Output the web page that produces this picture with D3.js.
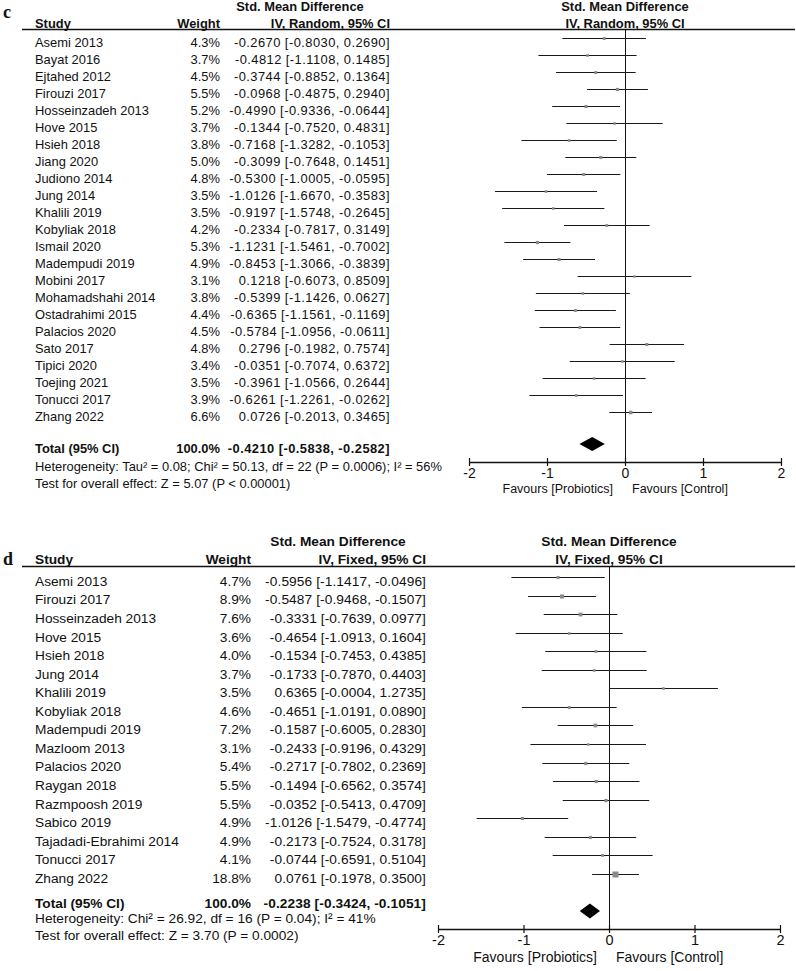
<!DOCTYPE html>
<html>
<head>
<meta charset="utf-8">
<script src="https://cdn.jsdelivr.net/npm/d3@7"></script>
<style>
  body { margin: 0; background: #fff; }
  text { font-family: "Liberation Sans", Arial, sans-serif; fill: #111; }
</style>
</head>
<body>
<svg></svg>
<script>
// panel c: random effects
let cStudies = ['Asemi 2013', 'Bayat 2016', 'Ejtahed 2012', 'Firouzi 2017', 'Hosseinzadeh 2013',
  'Hove 2015', 'Hsieh 2018', 'Jiang 2020', 'Judiono 2014', 'Jung 2014', 'Khalili 2019',
  'Kobyliak 2018', 'Ismail 2020', 'Madempudi 2019', 'Mobini 2017', 'Mohamadshahi 2014',
  'Ostadrahimi 2015', 'Palacios 2020', 'Sato 2017', 'Tipici 2020', 'Toejing 2021',
  'Tonucci 2017', 'Zhang 2022'];
let cWeights = [4.3, 3.7, 4.5, 5.5, 5.2, 3.7, 3.8, 5.0, 4.8, 3.5, 3.5, 4.2, 5.3, 4.9, 3.1, 3.8, 4.4, 4.5, 4.8, 3.4, 3.5, 3.9, 6.6];
let cSmd = [-0.2670, -0.4812, -0.3744, -0.0968, -0.4990, -0.1344, -0.7168, -0.3099, -0.5300, -1.0126,
  -0.9197, -0.2334, -1.1231, -0.8453, 0.1218, -0.5399, -0.6365, -0.5784, 0.2796, -0.0351, -0.3961, -0.6261, 0.0726];
let cLower = [-0.8030, -1.1108, -0.8852, -0.4875, -0.9336, -0.7520, -1.3282, -0.7648, -1.0005, -1.6670,
  -1.5748, -0.7817, -1.5461, -1.3066, -0.6073, -1.1426, -1.1561, -1.0956, -0.1982, -0.7074, -1.0566, -1.2261, -0.2013];
let cUpper = [0.2690, 0.1485, 0.1364, 0.2940, -0.0644, 0.4831, -0.1053, 0.1451, -0.0595, -0.3583,
  -0.2645, 0.3149, -0.7002, -0.3839, 0.8509, 0.0627, -0.1169, -0.0611, 0.7574, 0.6372, 0.2644, -0.0262, 0.3465];
let cTotal = [-0.4210, -0.5838, -0.2582];
let cHet = 'Heterogeneity: Tau² = 0.08; Chi² = 50.13, df = 22 (P = 0.0006); I² = 56%';
let cTest = 'Test for overall effect: Z = 5.07 (P < 0.00001)';

// panel d: fixed effects
let dStudies = ['Asemi 2013', 'Firouzi 2017', 'Hosseinzadeh 2013', 'Hove 2015', 'Hsieh 2018',
  'Jung 2014', 'Khalili 2019', 'Kobyliak 2018', 'Madempudi 2019', 'Mazloom 2013', 'Palacios 2020',
  'Raygan 2018', 'Razmpoosh 2019', 'Sabico 2019', 'Tajadadi-Ebrahimi 2014', 'Tonucci 2017', 'Zhang 2022'];
let dWeights = [4.7, 8.9, 7.6, 3.6, 4.0, 3.7, 3.5, 4.6, 7.2, 3.1, 5.4, 5.5, 5.5, 4.9, 4.9, 4.1, 18.8];
let dSmd = [-0.5956, -0.5487, -0.3331, -0.4654, -0.1534, -0.1733, 0.6365, -0.4651, -0.1587, -0.2433,
  -0.2717, -0.1494, -0.0352, -1.0126, -0.2173, -0.0744, 0.0761];
let dLower = [-1.1417, -0.9468, -0.7639, -1.0913, -0.7453, -0.7870, -0.0004, -1.0191, -0.6005, -0.9196,
  -0.7802, -0.6562, -0.5413, -1.5479, -0.7524, -0.6591, -0.1978];
let dUpper = [-0.0496, -0.1507, 0.0977, 0.1604, 0.4385, 0.4403, 1.2735, 0.0890, 0.2830, 0.4329,
  0.2369, 0.3574, 0.4709, -0.4774, 0.3178, 0.5104, 0.3500];
let dTotal = [-0.2238, -0.3424, -0.1051];
let dHet = 'Heterogeneity: Chi² = 26.92, df = 16 (P = 0.04); I² = 41%';
let dTest = 'Test for overall effect: Z = 3.70 (P = 0.0002)';

let tickValues = [-2, -1, 0, 1, 2];

let svg = d3.select('svg')
    .attr('width', 796)
    .attr('height', 971);

// plain hyphen as minus sign, like the original
let locale = d3.formatLocale({ decimal: '.', thousands: ',', grouping: [3], currency: ['', ''], minus: '-' });
let fmt = locale.format('.4f');
let fmtW = locale.format('.1f');

// square side follows sqrt of weight
let sizeScale = d3.scaleSqrt().domain([0, 18.8]).range([0, 6]);

function crisp(v) { return Math.round(v) + 0.5; }

function drawPanel(p) {
    let g = svg.append('g');
    let fs = p.fontSize;

    let x = d3.scaleLinear().domain([-2, 2]).range(p.xRange);
    let y = d3.scaleLinear().domain([0, 1]).range([p.row0, p.row0 + p.rowStep]);

    // panel letter
    g.append('text')
        .attr('x', 3).attr('y', p.letterY)
        .style('font-family', '"Liberation Serif", "Times New Roman", serif')
        .style('font-weight', 'bold')
        .style('font-size', '18px')
        .text(p.letter);

    // headers
    let bold = function(sel) { return sel.style('font-weight', 'bold').style('font-size', fs + 'px'); };
    g.append('text').call(bold).attr('x', p.tableHeadX).attr('y', p.head1Y)
        .attr('text-anchor', 'middle').text('Std. Mean Difference');
    g.append('text').call(bold).attr('x', p.studyX).attr('y', p.head2Y).text('Study');
    g.append('text').call(bold).attr('x', p.weightX).attr('y', p.head2Y)
        .attr('text-anchor', 'end').text('Weight');
    g.append('text').call(bold).attr('x', p.ciX).attr('y', p.head2Y)
        .attr('text-anchor', 'end').text(p.method);
    g.append('text').call(bold).attr('x', x(0)).attr('y', p.head1Y)
        .attr('text-anchor', 'middle').text('Std. Mean Difference');
    g.append('text').call(bold).attr('x', x(0)).attr('y', p.head2Y)
        .attr('text-anchor', 'middle').text(p.method);

    g.append('line')
        .attr('x1', 22).attr('x2', 795)
        .attr('y1', p.ruleY).attr('y2', p.ruleY)
        .attr('stroke', '#111').attr('stroke-width', 1.3);

    // zero line
    g.append('line')
        .attr('x1', crisp(x(0))).attr('x2', crisp(x(0)))
        .attr('y1', p.ruleY).attr('y2', p.axisY)
        .attr('stroke', '#111').attr('stroke-width', 1);

    let rows = p.studies.map(function(s, i) {
        return { study: s, w: p.weights[i], smd: p.smd[i], lo: p.lower[i], hi: p.upper[i], i: i };
    });

    let rowG = g.selectAll('.row')
        .data(rows)
        .enter()
        .append('g')
        .attr('class', 'row');

    rowG.append('text')
        .attr('x', p.studyX)
        .attr('y', function(d) { return y(d.i) + fs * 0.36; })
        .style('font-size', fs + 'px')
        .text(function(d) { return d.study; });
    rowG.append('text')
        .attr('x', p.weightX)
        .attr('y', function(d) { return y(d.i) + fs * 0.36; })
        .attr('text-anchor', 'end')
        .style('font-size', fs + 'px')
        .text(function(d) { return fmtW(d.w) + '%'; });
    rowG.append('text')
        .attr('x', p.ciX)
        .attr('y', function(d) { return y(d.i) + fs * 0.36; })
        .attr('text-anchor', 'end')
        .style('font-size', fs + 'px')
        .style('letter-spacing', p.ciSpacing + 'px')
        .text(function(d) { return fmt(d.smd) + ' [' + fmt(d.lo) + ', ' + fmt(d.hi) + ']'; });

    rowG.append('line')
        .attr('x1', function(d) { return x(d.lo); })
        .attr('x2', function(d) { return x(d.hi); })
        .attr('y1', function(d) { return crisp(y(d.i) - 4); })
        .attr('y2', function(d) { return crisp(y(d.i) - 4); })
        .attr('stroke', '#1a1a1a').attr('stroke-width', 1);

    rowG.append('rect')
        .attr('x', function(d) { return x(d.smd) - sizeScale(d.w) / 2; })
        .attr('y', function(d) { return crisp(y(d.i) - 4) - sizeScale(d.w) / 2; })
        .attr('width', function(d) { return sizeScale(d.w); })
        .attr('height', function(d) { return sizeScale(d.w); })
        .attr('fill', '#8a8a8a');

    // total row
    g.append('text').call(bold).attr('x', p.studyX).attr('y', p.totalY + fs * 0.36).text('Total (95% CI)');
    g.append('text').call(bold).attr('x', p.weightX).attr('y', p.totalY + fs * 0.36)
        .attr('text-anchor', 'end').text('100.0%');
    g.append('text').call(bold).attr('x', p.ciX).attr('y', p.totalY + fs * 0.36)
        .attr('text-anchor', 'end')
        .style('letter-spacing', p.ciSpacing + 'px')
        .text(fmt(p.total[0]) + ' [' + fmt(p.total[1]) + ', ' + fmt(p.total[2]) + ']');

    let dy = p.diamondY, hh = p.diamondH;
    g.append('polygon')
        .attr('points', [
            [x(p.total[1]), dy], [x(p.total[0]), dy - hh],
            [x(p.total[2]), dy], [x(p.total[0]), dy + hh]
        ].map(function(pt) { return pt.join(','); }).join(' '))
        .attr('fill', '#000');

    g.append('text').attr('x', p.studyX).attr('y', p.hetY + fs * 0.36)
        .style('font-size', fs + 'px').text(p.het);
    g.append('text').attr('x', p.studyX).attr('y', p.testY + fs * 0.36)
        .style('font-size', fs + 'px').text(p.test);

    // axis
    let axis = d3.axisBottom(x).tickValues(tickValues).tickSize(4).tickSizeOuter(0)
        .tickFormat(locale.format('d'));
    let axG = g.append('g')
        .attr('transform', `translate(0, ${p.axisY})`)
        .call(axis);
    axG.select('.domain').attr('stroke', '#111').attr('stroke-width', 1.3);
    axG.selectAll('.tick line').attr('y1', -4).attr('y2', 4).attr('stroke', '#111').attr('stroke-width', 1.2);
    axG.selectAll('.tick text')
        .attr('y', 6)
        .style('font-family', '"Liberation Sans", Arial, sans-serif')
        .style('font-size', p.tickFont + 'px')
        .attr('fill', '#111');

    g.append('text').attr('x', x(0) - 12).attr('y', p.favY)
        .attr('text-anchor', 'end').style('font-size', p.favFont + 'px').text('Favours [Probiotics]');
    g.append('text').attr('x', x(0) + 7).attr('y', p.favY)
        .style('font-size', p.favFont + 'px').text('Favours [Control]');
}

drawPanel({
    letter: 'c', letterY: 18,
    studies: cStudies, weights: cWeights, smd: cSmd, lower: cLower, upper: cUpper,
    total: cTotal, het: cHet, test: cTest, method: 'IV, Random, 95% CI',
    fontSize: 12.9, tickFont: 14, favFont: 12.5, ciSpacing: 0.45,
    xRange: [469, 781],
    studyX: 35, weightX: 220, ciX: 390, tableHeadX: 300,
    head1Y: 11, head2Y: 27.5, ruleY: 29.5,
    row0: 42, rowStep: 17,
    totalY: 448, diamondY: 444, diamondH: 7,
    hetY: 466.5, testY: 483,
    axisY: 462, favY: 492.5
});

drawPanel({
    letter: 'd', letterY: 565,
    studies: dStudies, weights: dWeights, smd: dSmd, lower: dLower, upper: dUpper,
    total: dTotal, het: dHet, test: dTest, method: 'IV, Fixed, 95% CI',
    fontSize: 13.7, tickFont: 14.5, favFont: 14, ciSpacing: 0.1,
    xRange: [438, 780],
    studyX: 35, weightX: 251, ciX: 426, tableHeadX: 338,
    head1Y: 546, head2Y: 564, ruleY: 566.5,
    row0: 581, rowStep: 18.55,
    totalY: 903, diamondY: 911, diamondH: 7.5,
    hetY: 918, testY: 935,
    axisY: 929, favY: 962
});
</script>
</body>
</html>
